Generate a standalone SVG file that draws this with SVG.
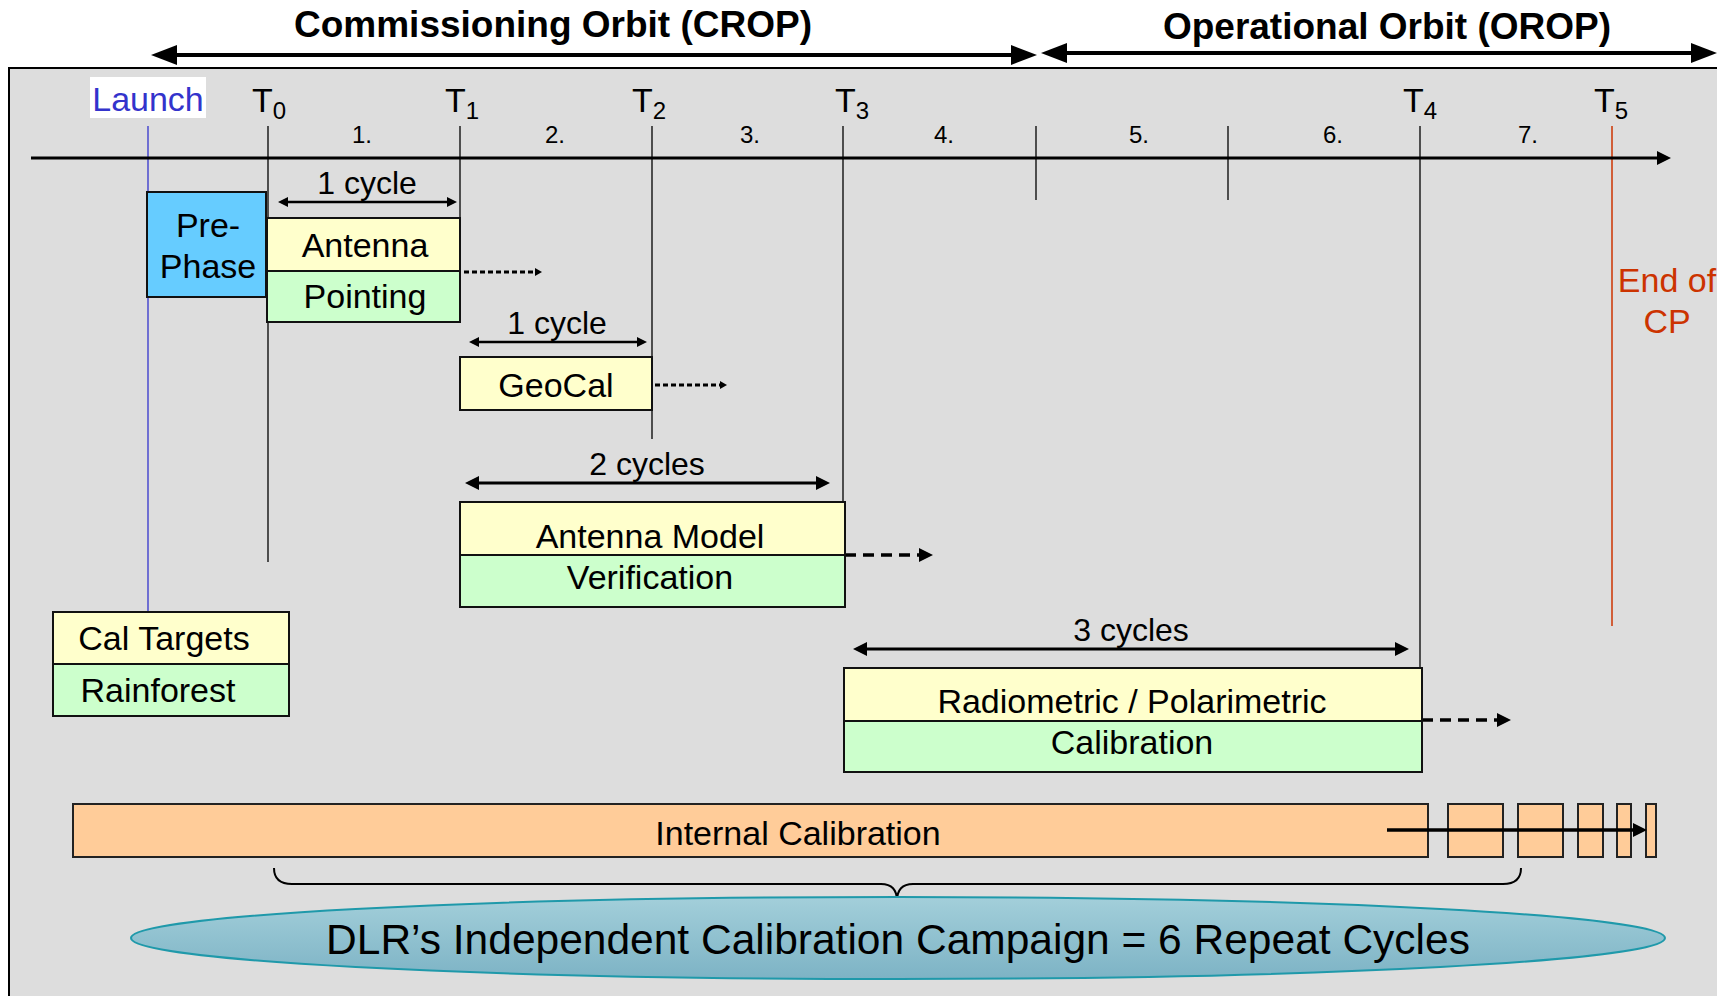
<svg xmlns="http://www.w3.org/2000/svg" width="1717" height="996" viewBox="0 0 1717 996">
<style>
text{font-family:"Liberation Sans",Arial,sans-serif;fill:#000}
.title{font-size:37px;font-weight:bold;text-anchor:middle}
.lbl{font-size:34px;text-anchor:middle}
.num{font-size:24px;text-anchor:middle}
.tl{font-size:34px}
.box{stroke:#111;stroke-width:2}
.yel{fill:#ffffcc}
.grn{fill:#ccffcc}
.org{fill:#ffcc99;stroke:#222;stroke-width:2}
.vl{stroke:#000;stroke-width:1.3;fill:none}
</style>
<defs>
<marker id="mBig" markerUnits="userSpaceOnUse" markerWidth="28" markerHeight="20" refX="8" refY="10" orient="auto-start-reverse"><path d="M0,0 L26,10 L0,20 z" fill="#000"/></marker>
<marker id="mMed" markerUnits="userSpaceOnUse" markerWidth="16" markerHeight="16" refX="4" refY="7" orient="auto-start-reverse"><path d="M0,0 L14,7 L0,14 z" fill="#000"/></marker>
<marker id="mSmall" markerUnits="userSpaceOnUse" markerWidth="12" markerHeight="12" refX="3" refY="5" orient="auto-start-reverse"><path d="M0,0 L10,5 L0,10 z" fill="#000"/></marker>
<marker id="mTiny" markerUnits="userSpaceOnUse" markerWidth="9" markerHeight="9" refX="2" refY="4" orient="auto-start-reverse"><path d="M0,0 L7,4 L0,8 z" fill="#000"/></marker>
<linearGradient id="gEll" x1="0" y1="0" x2="0" y2="1"><stop offset="0" stop-color="#a3cfda"/><stop offset="1" stop-color="#7db3c5"/></linearGradient>
</defs>
<rect width="1717" height="996" fill="#fff"/>
<g id="phase-titles">
<text class="title" x="553" y="37">Commissioning Orbit (CROP)</text>
<text class="title" x="1387" y="39">Operational Orbit (OROP)</text>
</g>
<g id="panel"><rect x="9" y="68" width="1712" height="940" fill="#dddddd" stroke="#000" stroke-width="2"/></g>
<g id="launch">
<rect x="90" y="77" width="116" height="41" fill="#fff"/>
<text class="lbl" x="148" y="111" style="fill:#3333cc">Launch</text>
</g>
<g id="time-labels" class="tl">
<text x="252" y="112">T<tspan font-size="24" dy="7">0</tspan></text>
<text x="445" y="112">T<tspan font-size="24" dy="7">1</tspan></text>
<text x="632" y="112">T<tspan font-size="24" dy="7">2</tspan></text>
<text x="835" y="112">T<tspan font-size="24" dy="7">3</tspan></text>
<text x="1403" y="112">T<tspan font-size="24" dy="7">4</tspan></text>
<text x="1594" y="112">T<tspan font-size="24" dy="7">5</tspan></text>
</g>
<g id="cycle-numbers">
<text class="num" x="362" y="143">1.</text>
<text class="num" x="555" y="143">2.</text>
<text class="num" x="750" y="143">3.</text>
<text class="num" x="944" y="143">4.</text>
<text class="num" x="1139" y="143">5.</text>
<text class="num" x="1333" y="143">6.</text>
<text class="num" x="1528" y="143">7.</text>
</g>
<g id="end-of-cp">
<text class="lbl" x="1667" y="292" style="fill:#cc3300">End of</text>
<text class="lbl" x="1667" y="333" style="fill:#cc3300">CP</text>
</g>
<g id="connectors">
<line x1="169" y1="55" x2="1019" y2="55" stroke="#000" stroke-width="4" marker-start="url(#mBig)" marker-end="url(#mBig)"/>
<line x1="1059" y1="53" x2="1699" y2="53" stroke="#000" stroke-width="4" marker-start="url(#mBig)" marker-end="url(#mBig)"/>
<line x1="148" y1="126" x2="148" y2="612" stroke="#3333cc" stroke-width="1.3"/>
<line class="vl" x1="268" y1="126" x2="268" y2="562"/>
<line class="vl" x1="460" y1="126" x2="460" y2="218"/>
<line class="vl" x1="652" y1="126" x2="652" y2="439"/>
<line class="vl" x1="843" y1="126" x2="843" y2="502"/>
<line class="vl" x1="1036" y1="126" x2="1036" y2="200"/>
<line class="vl" x1="1228" y1="126" x2="1228" y2="200"/>
<line class="vl" x1="1420" y1="126" x2="1420" y2="668"/>
<line x1="1612" y1="126" x2="1612" y2="626" stroke="#cc3300" stroke-width="1.5"/>
<line x1="31" y1="158" x2="1661" y2="158" stroke="#000" stroke-width="3" marker-end="url(#mMed)"/>
<line x1="285" y1="202" x2="450" y2="202" stroke="#000" stroke-width="2.5" marker-start="url(#mSmall)" marker-end="url(#mSmall)"/>
<line x1="476" y1="342" x2="640" y2="342" stroke="#000" stroke-width="2.5" marker-start="url(#mSmall)" marker-end="url(#mSmall)"/>
<line x1="475" y1="483" x2="820" y2="483" stroke="#000" stroke-width="3" marker-start="url(#mMed)" marker-end="url(#mMed)"/>
<line x1="863" y1="649" x2="1399" y2="649" stroke="#000" stroke-width="3" marker-start="url(#mMed)" marker-end="url(#mMed)"/>
<line x1="464" y1="272" x2="537" y2="272" stroke="#000" stroke-width="3" stroke-dasharray="5 3" marker-end="url(#mTiny)"/>
<line x1="655" y1="385" x2="722" y2="385" stroke="#000" stroke-width="3" stroke-dasharray="5 3" marker-end="url(#mTiny)"/>
<line x1="845" y1="555" x2="923" y2="555" stroke="#000" stroke-width="3.5" stroke-dasharray="11 7" marker-end="url(#mMed)"/>
<line x1="1422" y1="720" x2="1501" y2="720" stroke="#000" stroke-width="3.5" stroke-dasharray="11 7" marker-end="url(#mMed)"/>
</g>
<g id="cycle-labels">
<text class="lbl" x="367" y="194" style="font-size:32px">1 cycle</text>
<text class="lbl" x="557" y="334" style="font-size:32px">1 cycle</text>
<text class="lbl" x="647" y="475" style="font-size:32px">2 cycles</text>
<text class="lbl" x="1131" y="641" style="font-size:32px">3 cycles</text>
</g>
<g id="pre-phase">
<rect class="box" x="147" y="192" width="119" height="105" fill="#66ccff"/>
<text class="lbl" x="208" y="237">Pre-</text>
<text class="lbl" x="208" y="278">Phase</text>
</g>
<g id="antenna-pointing">
<rect class="box yel" x="267" y="218" width="193" height="53"/>
<rect class="box grn" x="267" y="271" width="193" height="51"/>
<text class="lbl" x="365" y="257">Antenna</text>
<text class="lbl" x="365" y="308">Pointing</text>
</g>
<g id="geocal">
<rect class="box yel" x="460" y="357" width="192" height="53"/>
<text class="lbl" x="556" y="397">GeoCal</text>
</g>
<g id="antenna-model">
<rect class="box yel" x="460" y="502" width="385" height="53"/>
<rect class="box grn" x="460" y="555" width="385" height="52"/>
<text class="lbl" x="650" y="548">Antenna Model</text>
<text class="lbl" x="650" y="589">Verification</text>
</g>
<g id="cal-targets">
<rect class="box yel" x="53" y="612" width="236" height="52"/>
<rect class="box grn" x="53" y="664" width="236" height="52"/>
<text class="lbl" x="164" y="650">Cal Targets</text>
<text class="lbl" x="158" y="702">Rainforest</text>
</g>
<g id="radiometric">
<rect class="box yel" x="844" y="668" width="578" height="53"/>
<rect class="box grn" x="844" y="721" width="578" height="51"/>
<text class="lbl" x="1132" y="713">Radiometric / Polarimetric</text>
<text class="lbl" x="1132" y="754">Calibration</text>
</g>
<g id="internal-calibration">
<rect class="org" x="73" y="804" width="1355" height="53"/>
<rect class="org" x="1448" y="804" width="55" height="53"/>
<rect class="org" x="1518" y="804" width="45" height="53"/>
<rect class="org" x="1578" y="804" width="25" height="53"/>
<rect class="org" x="1617" y="804" width="14" height="53"/>
<rect class="org" x="1646" y="804" width="10" height="53"/>
<text class="lbl" x="798" y="845" style="font-size:34px">Internal Calibration</text>
<line x1="1387" y1="830" x2="1637" y2="830" stroke="#000" stroke-width="3.5" marker-end="url(#mMed)"/>
</g>
<g id="brace"><path d="M274,868 Q274,884 292,884 L881,884 Q897,884 897,901 Q897,884 913,884 L1503,884 Q1521,884 1521,868" fill="none" stroke="#000" stroke-width="2"/></g>
<g id="campaign">
<ellipse cx="898" cy="938" rx="767" ry="41" fill="url(#gEll)" stroke="#1f99aa" stroke-width="2"/>
<text class="lbl" x="898" y="954" style="font-size:42.5px">DLR’s Independent Calibration Campaign = 6 Repeat Cycles</text>
</g>
</svg>
